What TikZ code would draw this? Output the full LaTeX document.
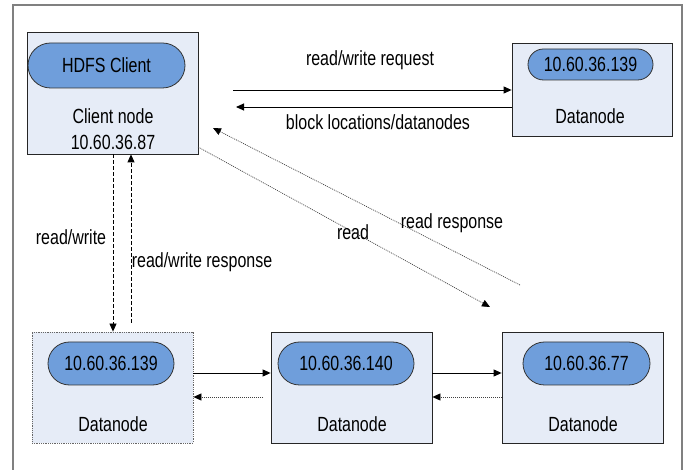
\documentclass[tikz,border=0pt]{standalone}
\usepackage{fontspec}
\setmainfont{Liberation Sans}[FakeStretch=0.78]
\usetikzlibrary{arrows.meta,shapes.misc}
\definecolor{boxfill}{HTML}{E6ECF7}
\definecolor{pillfill}{HTML}{6F9EDB}
\definecolor{framegray}{HTML}{808080}
\tikzset{
  hostbox/.style={draw=black!85, fill=boxfill, line width=0.8pt, minimum width=#1, inner sep=0pt},
  pill/.style={draw=black!80, fill=pillfill, rounded rectangle, line width=0.8pt, inner sep=0pt, font=\fontsize{20.5}{22}\selectfont},
  lbl/.style={font=\fontsize{20.5}{22}\selectfont, inner sep=0pt},
  solidarrow/.style={-{Triangle[length=8pt,width=7pt]}, line width=0.9pt},
  dashedarrow/.style={-{Triangle[length=8pt,width=7pt]}, line width=0.8pt, dash pattern=on 4pt off 2pt},
  dottedarrow/.style={-{Triangle[length=8pt,width=7pt,color=black,fill=black]}, line width=0.7pt, dash pattern=on 1pt off 1pt, draw=black!75},
}
\begin{document}
\begin{tikzpicture}[x=1pt,y=-1pt]
\useasboundingbox (0,0) rectangle (686,470);
% outer frame (open at bottom)
\draw[framegray, line width=2pt] (12.5,470) -- (12.5,5.5) -- (682,5.5) -- (682,470);

% client node
\node[hostbox=171pt, minimum height=122pt] (client) at (112.5,93) {};
\node[pill, minimum width=157pt, minimum height=45pt] (hdfs) at (106.5,65.5) {HDFS Client};
\node[lbl] (clientlbl) at (113,116) {Client node};
\node[lbl] (clientip) at (113,142) {10.60.36.87};

% top datanode
\node[hostbox=160pt, minimum height=93pt] (dntop) at (592,89.5) {};
\node[pill, minimum width=125pt, minimum height=31pt] (dntoppill) at (590.5,64.5) {10.60.36.139};
\node[lbl] (dntoplbl) at (590,116) {Datanode};

% bottom datanodes
\node[hostbox=161pt, minimum height=111pt, densely dotted, draw=black!60] (dn1) at (112.5,387.5) {};
\node[pill, minimum width=126pt, minimum height=43pt] (dn1pill) at (111,363.5) {10.60.36.139};
\node[lbl] (dn1lbl) at (113,424) {Datanode};

\node[hostbox=161pt, minimum height=111pt] (dn2) at (351.5,387.5) {};
\node[pill, minimum width=136pt, minimum height=43pt] (dn2pill) at (346,363.5) {10.60.36.140};
\node[lbl] (dn2lbl) at (352,424) {Datanode};

\node[hostbox=161pt, minimum height=111pt] (dn3) at (582.5,387.5) {};
\node[pill, minimum width=127pt, minimum height=43pt] (dn3pill) at (586.5,363.5) {10.60.36.77};
\node[lbl] (dn3lbl) at (583,424) {Datanode};

% request / response to top datanode
\coordinate (reqstart) at (233,90);
\coordinate (blkend) at (236,107);
\draw[solidarrow] (reqstart) -- (dntop.west |- reqstart);
\node[lbl] (reqlbl) at (370,60) {read/write request};
\draw[solidarrow] (dntop.west |- blkend) -- (blkend);
\node[lbl] (blklbl) at (378,122) {block locations/datanodes};

% diagonal read lines
\coordinate (readstart) at (198,147);
\coordinate (readend) at (490,307);
\coordinate (rrstart) at (520,285);
\coordinate (rrend) at (213,128);
\draw[dottedarrow] (readstart) -- (readend);
\draw[dottedarrow] (rrstart) -- (rrend);
\node[lbl] (readlbl) at (353,232) {read};
\node[lbl] (rrlbl) at (452,223) {read response};

% vertical dashed
\coordinate (rwx) at (113,0);
\draw[dashedarrow] (client.south -| rwx) -- (dn1.north -| rwx);
\coordinate (rwrstart) at (131,323);
\draw[dashedarrow] (rwrstart) -- (client.south -| rwrstart);
\node[lbl] (rwlbl) at (71,237) {read/write};
\node[lbl] (rwrlbl) at (202,262) {read/write response};

% horizontal between bottom datanodes
\coordinate (hsolid) at (0,373);
\coordinate (hdot) at (0,397);
\coordinate (d12s) at (263,397);
\draw[solidarrow] (dn1.east |- hsolid) -- (dn2.west |- hsolid);
\draw[dottedarrow] (d12s) -- (dn1.east |- hdot);
\draw[solidarrow] (dn2.east |- hsolid) -- (dn3.west |- hsolid);
\draw[dottedarrow] (dn3.west |- hdot) -- (dn2.east |- hdot);
\end{tikzpicture}
\end{document}
